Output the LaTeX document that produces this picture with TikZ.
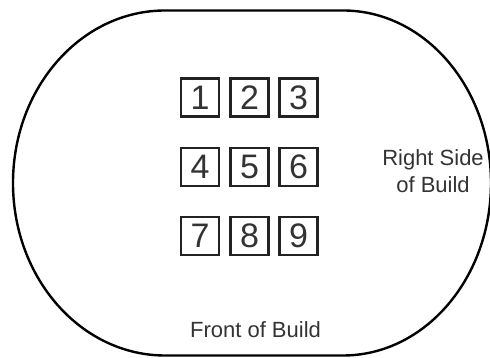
\documentclass[tikz,border=0pt]{standalone}
\usepackage{fontspec}
\setmainfont{Liberation Sans}
\definecolor{txt}{HTML}{333333}
\definecolor{boxline}{HTML}{222222}
\begin{document}
\begin{tikzpicture}[x=1pt,y=1pt,
  cell/.style={draw=boxline,line width=2.2pt,minimum width=38pt,minimum height=38pt,inner sep=0pt,
    font=\fontsize{34}{34}\selectfont,text=txt},
  label/.style={text=txt,font=\fontsize{22}{27}\selectfont,inner sep=0pt,align=center}]
\useasboundingbox (0,0) rectangle (490,358);
\draw[line width=2.4pt,black]
  (165,347.5) -- (343,347.5)
  arc[start angle=90,end angle=-90,x radius=148pt,y radius=172.5pt]
  -- (165,2.5)
  arc[start angle=270,end angle=90,x radius=152pt,y radius=172.5pt] -- cycle;
\foreach \n/\x/\y in {1/200/260.5,2/249.5/260.5,3/298.5/260.5,4/200/191,5/249.5/191,6/298.5/191,7/200/122,8/249.5/122,9/298.5/122}
  \node[cell] (c\n) at (\x,\y) {\n};
\node[label,anchor=base] (right1) at (433,192) {Right Side};
\node[label,anchor=base] (right2) at (433,165) {of Build};
\node[label,anchor=base] (front) at (255.5,20) {Front of Build};
\end{tikzpicture}
\end{document}
